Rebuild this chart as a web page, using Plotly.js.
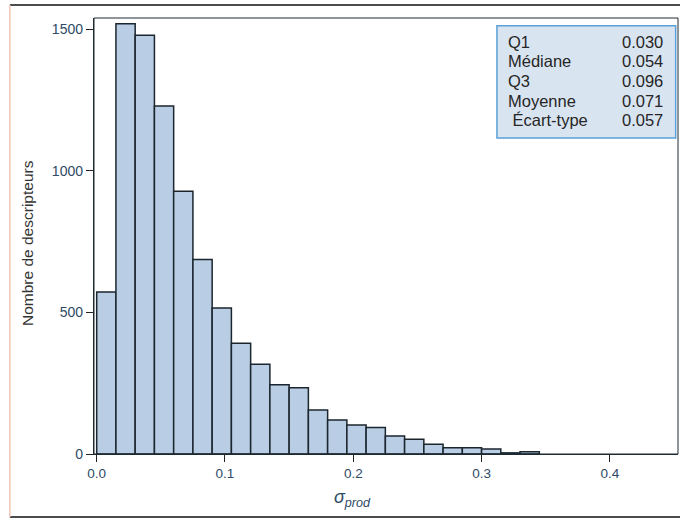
<!DOCTYPE html>
<html>
<head>
<meta charset="utf-8">
<script src="https://cdn.plot.ly/plotly-3.0.1.min.js"></script>
<style>html,body{margin:0;padding:0;background:#fff;}#chart{width:680px;height:518px;}</style>
</head>
<body>
<div id="chart"></div>
<script>
// Histogram bins (lower edges) and counts
const binLower = [0.000, 0.015, 0.030, 0.045, 0.060, 0.075, 0.090, 0.105, 0.120, 0.135, 0.150, 0.165,
                  0.180, 0.195, 0.210, 0.225, 0.240, 0.255, 0.270, 0.285, 0.300, 0.315, 0.330];
const counts   = [572, 1520, 1479, 1229, 928, 687, 516, 391, 317, 245, 234, 155,
                  120, 102, 94, 64, 52, 34, 22, 22, 18, 4, 8];
const binWidth = 0.015;

// Summary statistics box
const statLabels = ["Q1", "Médiane", "Q3", "Moyenne", "\u00A0Écart-type"];
const statValues = ["0.030", "0.054", "0.096", "0.071", "0.057"];

// Axis ticks
const xTicks = [0.0, 0.1, 0.2, 0.3, 0.4];
const xTickText = ["0.0", "0.1", "0.2", "0.3", "0.4"];
const yTicks = [0, 500, 1000, 1500];

const FONT = "Liberation Sans, Arial, sans-serif";

const trace = {
  type: "bar",
  x: binLower,
  y: counts,
  width: binWidth,
  offset: 0,
  marker: {color: "#b9cde5", line: {color: "#1b262e", width: 1.5}},
  hoverinfo: "x+y"
};

const annotations = [];
const rowTop = 0.946, rowStep = 0.0452;
statLabels.forEach((lab, i) => {
  annotations.push({xref: "paper", yref: "paper", x: 0.706, y: rowTop - i * rowStep,
    text: lab, showarrow: false, xanchor: "left", yanchor: "middle",
    font: {family: FONT, size: 16.5, color: "#262626"}});
  annotations.push({xref: "paper", yref: "paper", x: 0.977, y: rowTop - i * rowStep,
    text: statValues[i], showarrow: false, xanchor: "right", yanchor: "middle",
    font: {family: FONT, size: 16.5, color: "#262626"}});
});
// x-axis title (placed left of centre as in the reference)
annotations.push({xref: "paper", yref: "paper", x: 0.442, y: -0.072,
  text: "<i>σ<sub>prod</sub></i>", showarrow: false, xanchor: "center", yanchor: "top",
  font: {family: FONT, size: 18, color: "#2e4a66"}});
// y-axis title
annotations.push({xref: "paper", yref: "paper", x: -0.113, y: 0.484,
  text: "Nombre de descripteurs", showarrow: false, textangle: -90,
  xanchor: "center", yanchor: "middle",
  font: {family: FONT, size: 15.5, color: "#333333"}});

const layout = {
  width: 680, height: 518,
  margin: {l: 94, r: 2, t: 18, b: 64},
  paper_bgcolor: "#ffffff",
  plot_bgcolor: "#ffffff",
  showlegend: false,
  bargap: 0,
  font: {family: FONT, size: 13.5, color: "#2e4a66"},
  xaxis: {
    range: [-0.0021, 0.4531],
    tickvals: xTicks, ticktext: xTickText,
    ticks: "outside", ticklen: 7, tickcolor: "#222", tickwidth: 1,
    showline: true, linecolor: "#1e2a33", linewidth: 1.2,
    showgrid: false, zeroline: false,
    tickfont: {family: FONT, size: 13.5, color: "#2e4a66"}
  },
  yaxis: {
    range: [0, 1540],
    tickvals: yTicks,
    ticks: "outside", ticklen: 7, tickcolor: "#222", tickwidth: 1,
    showline: true, linecolor: "#1e2a33", linewidth: 1.2,
    showgrid: false, zeroline: false,
    tickfont: {family: FONT, size: 14, color: "#2e4a66"}
  },
  shapes: [
    // plot frame
    {type: "rect", xref: "paper", yref: "paper", x0: 0, x1: 1, y0: 0, y1: 1,
     line: {color: "#1e2a33", width: 1}, layer: "above"},
    // statistics box
    {type: "rect", xref: "paper", yref: "paper", x0: 0.69, x1: 0.996, y0: 0.725, y1: 0.982,
     fillcolor: "#d9e4f1", line: {color: "#5a9fd6", width: 1.5}, layer: "below"},
    // outer frame lines
    {type: "line", xref: "paper", yref: "paper", x0: -0.144, x1: 1.004, y0: 1.0298, y1: 1.0298,
     line: {color: "#111111", width: 1.5}},
    {type: "line", xref: "paper", yref: "paper", x0: -0.144, x1: 1.004, y0: -0.1445, y1: -0.1445,
     line: {color: "#111111", width: 1.5}},
    {type: "line", xref: "paper", yref: "paper", x0: -0.144, x1: -0.144, y0: -0.1445, y1: 1.0298,
     line: {color: "#f2c6b0", width: 1.5}}
  ],
  annotations: annotations
};

Plotly.newPlot("chart", [trace], layout, {displayModeBar: false, staticPlot: true});
</script>
</body>
</html>
